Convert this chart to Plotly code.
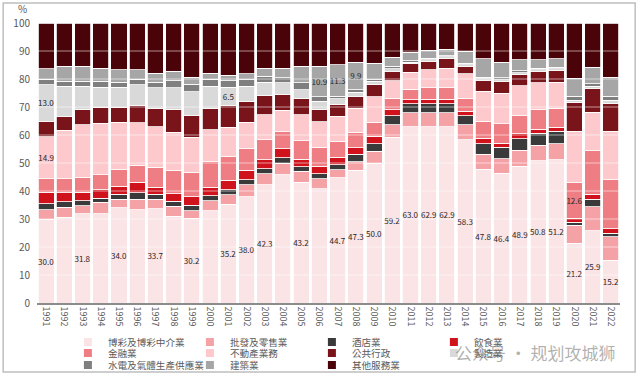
import plotly.graph_objects as go

years = [str(y) for y in range(1991, 2023)]

names = ["博彩及博彩中介業", "批發及零售業", "酒店業", "飲食業",
         "金融業", "不動產業務", "公共行政", "製造業",
         "水電及氣體生產供應業", "建築業", "其他服務業"]

gaming = [30.0, 30.7, 31.8, 31.9, 34.0, 33.3, 33.7, 31.0, 30.2, 33.0, 35.2, 38.0, 42.3, 45.8, 43.2, 40.7,
          44.7, 47.3, 50.0, 59.2, 63.0, 62.9, 62.9, 58.3, 47.8, 46.4, 48.9, 50.8, 51.2, 21.2, 25.9, 15.2]
wholesale = [3.3, 3.5, 3.0, 4.1, 3.1, 3.8, 3.4, 3.5, 2.8, 3.5, 3.5, 4.3, 3.9, 4.2, 3.8, 3.6,
             2.9, 3.1, 4.2, 4.5, 4.9, 5.0, 5.0, 5.4, 5.4, 5.1, 5.6, 5.5, 5.6, 6.5, 8.6, 8.4]
hotel = [2.2, 1.9, 1.7, 1.5, 1.8, 2.2, 1.8, 1.8, 1.9, 1.8, 1.8, 1.7, 1.8, 1.8, 1.6, 1.8,
         1.8, 2.7, 2.7, 3.2, 3.2, 3.2, 3.2, 3.2, 3.7, 4.1, 4.2, 4.4, 4.5, 1.0, 2.7, 1.4]
food = [4.0, 3.2, 3.0, 3.0, 2.8, 3.8, 2.5, 2.7, 3.0, 3.0, 3.3, 3.4, 3.2, 3.3, 2.8, 2.7,
        2.6, 2.3, 2.6, 2.1, 1.5, 1.6, 1.6, 1.6, 2.0, 1.5, 1.7, 1.4, 1.4, 1.4, 1.8, 1.5]
finance = [4.9, 5.1, 5.5, 5.3, 5.9, 6.1, 7.1, 8.5, 8.8, 9.1, 8.6, 7.7, 7.1, 6.0, 6.6, 6.8,
           5.7, 5.4, 5.0, 4.2, 3.8, 4.1, 4.1, 4.4, 6.0, 6.9, 6.5, 6.9, 6.9, 12.6, 15.5, 17.5]
realestate = [14.9, 17.3, 18.7, 18.4, 16.9, 15.2, 14.4, 13.5, 12.5, 11.5, 10.3, 9.5, 9.0, 7.7, 9.3, 9.0,
              9.0, 8.6, 9.1, 6.2, 6.0, 6.5, 7.1, 8.9, 10.7, 11.0, 10.7, 9.6, 9.2, 18.4, 13.9, 17.3]
public = [5.7, 5.0, 5.3, 5.7, 5.5, 6.2, 6.7, 8.0, 7.8, 7.5, 7.9, 7.4, 6.9, 5.8, 5.6, 4.4,
          4.1, 4.2, 4.4, 3.3, 3.0, 3.0, 3.4, 2.7, 3.9, 4.2, 3.9, 4.1, 4.2, 10.2, 8.3, 10.1]
manufacturing = [13.0, 10.7, 8.4, 7.2, 7.0, 7.4, 7.2, 7.8, 8.4, 8.0, 6.5, 5.4, 4.6, 4.0, 3.3, 3.0,
                 2.2, 1.6, 1.2, 1.0, 0.6, 0.6, 0.6, 0.6, 0.6, 0.6, 0.8, 0.6, 0.6, 0.9, 1.0, 1.1]
utilities = [2.0, 1.8, 1.8, 2.1, 1.8, 2.0, 2.0, 2.6, 2.8, 2.6, 2.3, 2.4, 2.2, 1.8, 2.4, 1.5,
             0.8, 0.8, 0.6, 0.8, 0.5, 0.6, 0.4, 0.6, 0.6, 0.6, 0.7, 0.6, 0.6, 1.4, 0.8, 1.3]
construction = [3.7, 5.3, 5.3, 4.7, 4.5, 3.3, 3.3, 3.3, 2.5, 2.1, 1.9, 2.0, 2.9, 3.5, 5.9, 10.9,
                11.3, 9.9, 5.9, 3.2, 3.1, 2.7, 2.4, 4.2, 6.6, 5.6, 3.9, 3.0, 3.1, 6.4, 6.0, 6.8]
other = [16.3, 15.5, 15.5, 16.1, 16.7, 16.7, 17.9, 17.3, 19.3, 17.9, 18.7, 18.2, 16.1, 16.1, 15.5, 15.5,
         14.9, 13.9, 14.3, 12.3, 10.4, 9.8, 9.3, 10.1, 12.7, 14.0, 13.1, 13.1, 12.7, 19.6, 15.8, 19.4]

# which values are printed on the bars
gaming_label_years = ["1991", "1993", "1995", "1997", "1999", "2001", "2002", "2003", "2005",
                      "2007", "2008", "2009", "2010", "2011", "2012", "2013", "2014", "2015",
                      "2016", "2017", "2018", "2019", "2020", "2021", "2022"]
label_years = {
    0: gaming_label_years,
    4: ["2020"],
    5: ["1991"],
    7: ["1991", "2001"],
    9: ["2006", "2007", "2008"],
}

series = [gaming, wholesale, hotel, food, finance, realestate, public,
          manufacturing, utilities, construction, other]
colors = ["#fbe4e6", "#f5a2a7", "#3a3a3a", "#d0121c", "#ef7e84", "#fdc9cc",
          "#7a141b", "#d9d9d9", "#7f7f7f", "#a6a6a6", "#4a0409"]
legend_of = ["legend", "legend", "legend", "legend",
             "legend2", "legend2", "legend2", "legend2",
             "legend3", "legend3", "legend3"]

fig = go.Figure()
for i, (nm, vals, col) in enumerate(zip(names, series, colors)):
    shown = label_years.get(i, [])
    txt = [f"{v:.1f}" if y in shown else "" for y, v in zip(years, vals)]
    fig.add_trace(go.Bar(
        x=years, y=vals, name=nm, marker=dict(color=col, line=dict(color="white", width=0.8)),
        text=txt, textposition="inside", insidetextanchor="middle", textangle=0,
        textfont=dict(size=8, color="#262626"), showlegend=False, hoverinfo="x+y+name",
    ))
for i, (nm, col) in enumerate(zip(names, colors)):
    fig.add_trace(go.Scatter(
        x=[None], y=[None], mode="markers", name=nm,
        marker=dict(symbol="square", size=8, color=col),
        legend=legend_of[i], showlegend=True, hoverinfo="skip",
    ))

leg_common = dict(orientation="h", xanchor="left", x=0.053, yanchor="middle",
                  traceorder="normal",
                  font=dict(size=9.6, color="#595959", family="Noto Sans CJK TC"),
                  bgcolor="rgba(0,0,0,0)", entrywidth=77, entrywidthmode="pixels",
                  itemwidth=30, tracegroupgap=0)

fig.update_layout(
    width=640, height=379,
    margin=dict(l=37, r=20, t=23, b=76, autoexpand=False),
    paper_bgcolor="white", plot_bgcolor="white",
    barmode="stack", barnorm="percent", bargap=0.12,
    font=dict(family="Noto Sans CJK TC", color="#595959"),
    uniformtext=dict(minsize=8, mode="show"),
    legend=dict(y=-0.139, **leg_common),
    legend2=dict(y=-0.179, **leg_common),
    legend3=dict(y=-0.221, **leg_common),
    xaxis=dict(type="category", tickangle=90, tickfont=dict(size=9, color="#595959"),
               showline=True, linecolor="#8c8c8c", linewidth=1.5, ticks="", showgrid=False,
               automargin=False),
    yaxis=dict(range=[0, 100], dtick=10, showgrid=False, zeroline=False,
               tickfont=dict(size=10, color="#595959"), ticks="outside", ticklen=4,
               tickcolor="rgba(0,0,0,0)", automargin=False),
    annotations=[
        dict(text="%", xref="paper", yref="paper", x=-0.0257, y=1.05, xanchor="center",
             yanchor="middle", showarrow=False, font=dict(size=10, color="#595959")),
        dict(text="公众号 · 规划攻城狮", xref="paper", yref="paper", x=0.855, y=-0.175,
             xanchor="center", yanchor="middle",
             showarrow=False, font=dict(size=17, color="rgba(110,110,110,0.55)",
                                        family="Noto Sans CJK SC")),
    ],
    shapes=[
        dict(type="rect", xref="paper", yref="paper", x0=-0.058, x1=1.026, y0=-0.246, y1=1.071,
             line=dict(color="#bfbfbf", width=1.5), layer="below"),
    ] + [
        dict(type="line", xref="paper", yref="y", x0=0, x1=1, y0=g, y1=g,
             line=dict(color="rgba(255,255,255,0.55)", width=1), layer="above")
        for g in [10, 20, 30, 40, 50, 60, 70, 80, 90]
    ],
)

fig.write_html("out.html", config={"displayModeBar": False},
               post_script="document.body.style.margin='0';")
